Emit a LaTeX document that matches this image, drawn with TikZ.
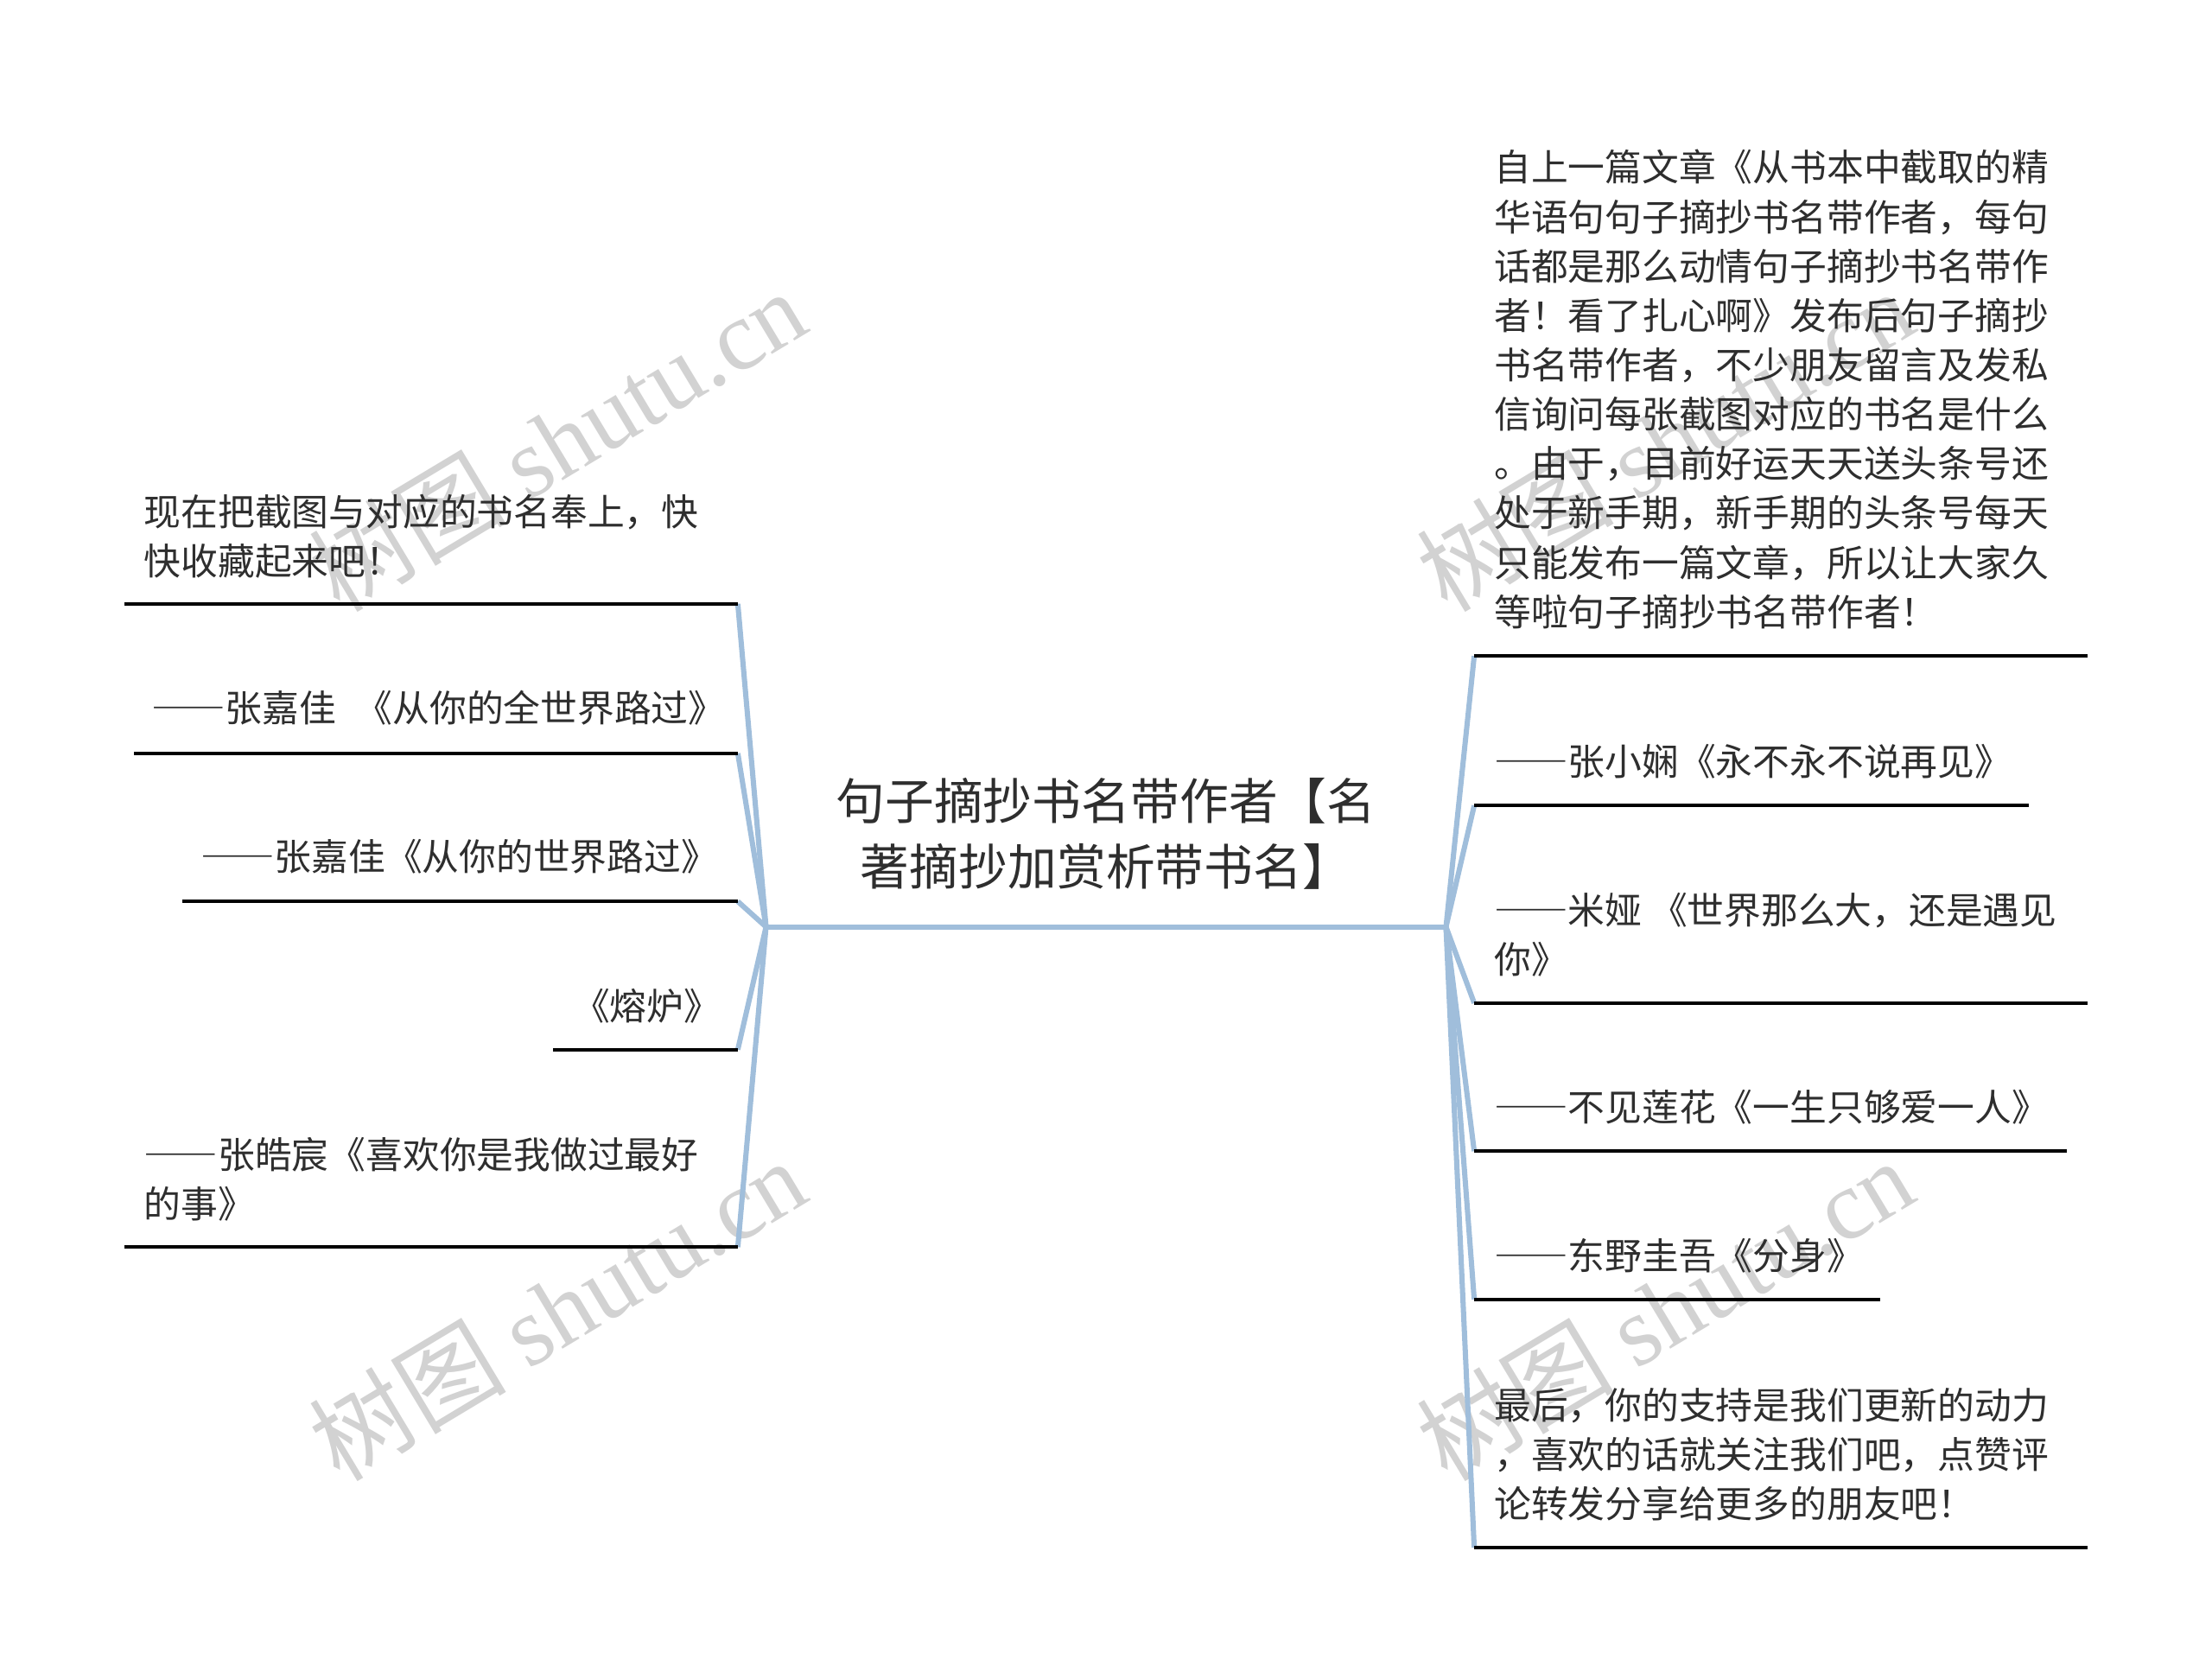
\documentclass[tikz,border=0pt]{standalone}
\usepackage{fontspec}
\setmainfont{Noto Sans CJK SC}
\newfontfamily\wmlatin{Liberation Serif}
\newfontfamily\cjkfont{Noto Sans CJK SC}
\newcommand\fdash{{\addfontfeatures{CharacterWidth=Full}——}}
\definecolor{branch}{HTML}{A0BEDB}
\definecolor{txtc}{HTML}{2E2E2E}
\definecolor{wmc}{HTML}{D2D2D2}
\tikzset{
  leaftext/.style={inner sep=0pt, anchor=west, align=left, text=txtc,
    font=\fontsize{26.2}{35}\selectfont},
  centertext/.style={inner sep=0pt, align=center, text=txtc,
    font=\fontsize{34.8}{47}\selectfont},
  uline/.style={line width=2.6pt, black},
  conn/.style={line width=3.7pt, branch},
  wmark/.style={inner sep=0pt, text=wmc, rotate=31, font=\fontsize{70}{70}\selectfont}
}
\begin{document}
\begin{tikzpicture}[x=1pt,y=-1pt]
\useasboundingbox (0,0) rectangle (1568,1185);
% watermarks
\node[wmark] (w1) at (395,312) {\cjkfont 树图 \wmlatin shutu.cn};
\node[wmark] (w2) at (395,928) {\cjkfont 树图 \wmlatin shutu.cn};
\node[wmark] (w3) at (1180,312) {\cjkfont 树图 \wmlatin shutu.cn};
\node[wmark] (w4) at (1180,928) {\cjkfont 树图 \wmlatin shutu.cn};

% hubs
\coordinate (hl) at (543,657);
\coordinate (hr) at (1025,657);
\node[centertext] (c) at (784,591) {句子摘抄书名带作者【名\\著摘抄加赏析带书名】};

% left leaves
\node[leaftext] (l1) at (102,380) {现在把截图与对应的书名奉上，快\\快收藏起来吧！};
\node[leaftext] (l2) at (107,502) {\fdash 张嘉佳\hspace{14pt}《从你的全世界路过》};
\node[leaftext] (l3) at (142,607) {\fdash 张嘉佳《从你的世界路过》};
\node[leaftext] (l4) at (406,713) {《熔炉》};
\node[leaftext] (l5) at (102,836) {\fdash 张皓宸《喜欢你是我做过最好\\的事》};

\coordinate (l1a) at (88,428);  \coordinate (l1b) at (523,428);
\coordinate (l2a) at (95,534);  \coordinate (l2b) at (523,534);
\coordinate (l3a) at (129,639); \coordinate (l3b) at (523,639);
\coordinate (l4a) at (392,744); \coordinate (l4b) at (523,744);
\coordinate (l5a) at (88,884);  \coordinate (l5b) at (523,884);

% right leaves
\node[leaftext] (r1) at (1059,276) {自上一篇文章《从书本中截取的精\\华语句句子摘抄书名带作者，每句\\话都是那么动情句子摘抄书名带作\\者！看了扎心啊》发布后句子摘抄\\书名带作者，不少朋友留言及发私\\信询问每张截图对应的书名是什么\\。由于，目前好运天天送头条号还\\处于新手期，新手期的头条号每天\\只能发布一篇文章，所以让大家久\\等啦句子摘抄书名带作者！};
\node[leaftext] (r2) at (1059,540) {\fdash 张小娴《永不永不说再见》};
\node[leaftext] (r3) at (1059,662.5) {\fdash 米娅\ 《世界那么大，还是遇见\\你》};
\node[leaftext] (r4) at (1059,785) {\fdash 不见莲花《一生只够爱一人》};
\node[leaftext] (r5) at (1059,890) {\fdash 东野圭吾《分身》};
\node[leaftext] (r6) at (1059,1031) {最后，你的支持是我们更新的动力\\，喜欢的话就关注我们吧，点赞评\\论转发分享给更多的朋友吧！};

\coordinate (r1a) at (1045,465);  \coordinate (r1b) at (1480,465);
\coordinate (r2a) at (1045,571);  \coordinate (r2b) at (1438,571);
\coordinate (r3a) at (1045,711);  \coordinate (r3b) at (1480,711);
\coordinate (r4a) at (1045,816);  \coordinate (r4b) at (1465,816);
\coordinate (r5a) at (1045,921);  \coordinate (r5b) at (1333,921);
\coordinate (r6a) at (1045,1097); \coordinate (r6b) at (1480,1097);

% connectors
\draw[conn] (hl) -- (hr);
\foreach \n in {l1,l2,l3,l4,l5} {\draw[conn] (hl) -- (\n b);}
\foreach \n in {r1,r2,r3,r4,r5,r6} {\draw[conn] (hr) -- (\n a);}

% underlines
\foreach \n in {l1,l2,l3,l4,l5,r1,r2,r3,r4,r5,r6} {\draw[uline] (\n a) -- (\n b);}
\end{tikzpicture}
\end{document}
